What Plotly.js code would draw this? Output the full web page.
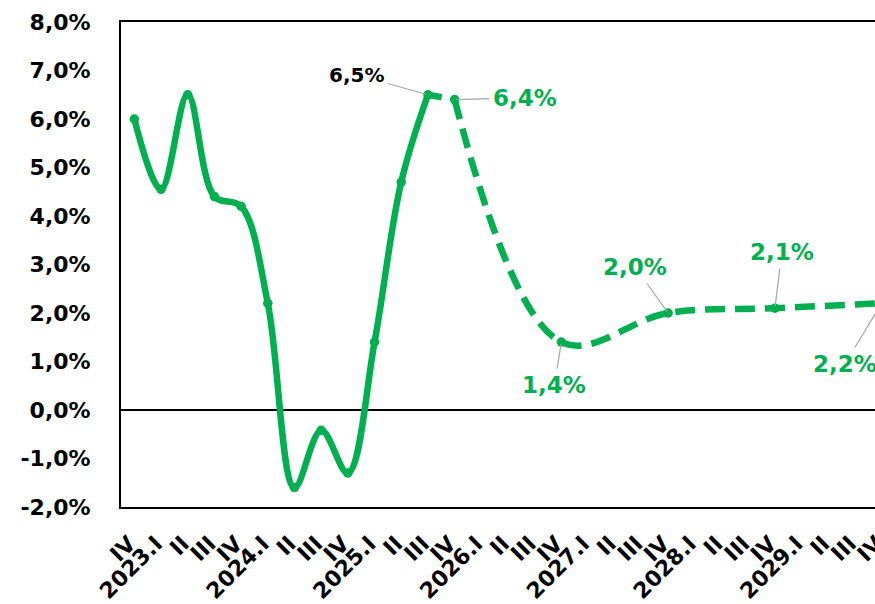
<!DOCTYPE html>
<html>
<head>
<meta charset="utf-8">
<script src="https://cdn.plot.ly/plotly-3.0.1.min.js"></script>
<style>
html,body{margin:0;padding:0;overflow:hidden;background:#fff;}
#chart{width:900px;height:604px;}
</style>
</head>
<body>
<div id="chart"></div>
<script>
// Category keys (quarters) and their displayed tick labels
const quarterKeys = [
  "2022.IV",
  "2023.I","2023.II","2023.III","2023.IV",
  "2024.I","2024.II","2024.III","2024.IV",
  "2025.I","2025.II","2025.III","2025.IV",
  "2026.I","2026.II","2026.III","2026.IV",
  "2027.I","2027.II","2027.III","2027.IV",
  "2028.I","2028.II","2028.III","2028.IV",
  "2029.I","2029.II","2029.III","2029.IV"
];
const quarterLabels = [
  "IV",
  "2023.I","II","III","IV",
  "2024.I","II","III","IV",
  "2025.I","II","III","IV",
  "2026.I","II","III","IV",
  "2027.I","II","III","IV",
  "2028.I","II","III","IV",
  "2029.I","II","III","IV"
];

// Actual values (solid line), %
const actualKeys = ["2022.IV","2023.I","2023.II","2023.III","2023.IV","2024.I","2024.II","2024.III","2024.IV","2025.I","2025.II","2025.III"];
const actualValues = [6.0, 4.55, 6.5, 4.4, 4.2, 2.2, -1.6, -0.42, -1.3, 1.4, 4.7, 6.5];

// Forecast values (dashed line), %
const forecastKeys = ["2025.III","2025.IV","2026.IV","2027.IV","2028.IV","2029.IV"];
const forecastValues = [6.5, 6.4, 1.4, 2.0, 2.1, 2.2];

// Data labels
const labelKeys   = ["2025.III","2025.IV","2026.IV","2027.IV","2028.IV","2029.IV"];
const labelValues = [6.5, 6.4, 1.4, 2.0, 2.1, 2.2];
const labelTexts  = ["6,5%","6,4%","1,4%","2,0%","2,1%","2,2%"];

// Y axis ticks
const yTickVals = [-2,-1,0,1,2,3,4,5,6,7,8];
const yTickLabels = ["-2,0%","-1,0%","0,0%","1,0%","2,0%","3,0%","4,0%","5,0%","6,0%","7,0%","8,0%"];

const green = "#00B050";
const fontFam = "DejaVu Sans, Arial, sans-serif";

const traces = [
  {
    x: actualKeys, y: actualValues, type: "scatter", mode: "lines+markers",
    line: {color: green, width: 6.5, shape: "spline", smoothing: 1},
    marker: {color: green, size: 9.5},
    hoverinfo: "skip"
  },
  {
    // link from last actual quarter to first forecast quarter
    x: forecastKeys.slice(0, 2), y: forecastValues.slice(0, 2), type: "scatter", mode: "lines",
    line: {color: green, width: 6.5, dash: "14px,13px"},
    hoverinfo: "skip"
  },
  {
    x: forecastKeys.slice(1), y: forecastValues.slice(1), type: "scatter", mode: "lines+markers",
    line: {color: green, width: 6.5, shape: "spline", smoothing: 1.05, dash: "20px,10px"},
    marker: {color: green, size: 9.5},
    hoverinfo: "skip"
  }
];

const labelStyle = [
  {ax: -71, ay: -20, color: "#000000", size: 20},
  {ax: 70, ay: -2, color: green, size: 23},
  {ax: -7, ay: 43, color: green, size: 23},
  {ax: -33, ay: -46, color: green, size: 23},
  {ax: 7, ay: -56, color: green, size: 23},
  {ax: -37, ay: 61, color: green, size: 23}
];

const annotations = labelKeys.map((k, i) => ({
  x: k, y: labelValues[i], xref: "x", yref: "y",
  text: labelTexts[i],
  showarrow: true, arrowhead: 0, arrowwidth: 1.2, arrowcolor: "#a6a6a6",
  ax: labelStyle[i].ax, ay: labelStyle[i].ay, standoff: 2, borderpad: 3,
  font: {family: fontFam, size: labelStyle[i].size, color: labelStyle[i].color, weight: "bold"}
}));

const layout = {
  width: 900, height: 604,
  margin: {l: 121, r: 5, t: 22, b: 97, pad: 0},
  paper_bgcolor: "#ffffff", plot_bgcolor: "#ffffff",
  showlegend: false,
  font: {family: fontFam, size: 22, color: "#000000", weight: "bold"},
  xaxis: {
    type: "category",
    categoryorder: "array", categoryarray: quarterKeys,
    tickmode: "array", tickvals: quarterKeys, ticktext: quarterLabels,
    tickangle: -45,
    range: [-0.5, quarterKeys.length - 0.5],
    showgrid: false, zeroline: false,
    showline: true, linecolor: "#000000", linewidth: 2, mirror: true,
    ticks: "", ticklabelstandoff: 13, ticklabelshift: -5,
    tickfont: {family: fontFam, size: 22, color: "#000000", weight: "bold"},
    fixedrange: true
  },
  yaxis: {
    range: [-2, 8],
    tickmode: "array", tickvals: yTickVals, ticktext: yTickLabels,
    showgrid: false,
    zeroline: true, zerolinecolor: "#000000", zerolinewidth: 2,
    showline: true, linecolor: "#000000", linewidth: 2, mirror: true,
    ticks: "", ticklabelstandoff: 24,
    tickfont: {family: fontFam, size: 22, color: "#000000", weight: "bold"},
    fixedrange: true
  },
  annotations: annotations
};

Plotly.newPlot("chart", traces, layout, {staticPlot: true, displayModeBar: false});
</script>
</body>
</html>
